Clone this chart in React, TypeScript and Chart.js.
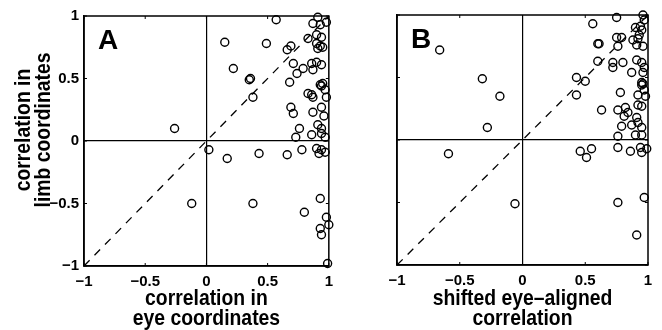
import React, { useEffect, useRef } from 'react';
import { Chart, registerables } from 'chart.js';

Chart.register(...registerables);

// ---------- data ----------
const TICK_VALUES = [-1, -0.5, 0, 0.5, 1];
const TICK_LABELS = ['\u22121', '\u22120.5', '0', '0.5', '1'];

const DIAG_X = [-1, 1];
const DIAG_Y = [-1, 1];

const A_X = [0.15, 0.57, 0.22, 0.49, 0.35, 0.36, 0.38, -0.26, 0.69, 0.66, 0.91, 0.98, 0.87, 0.93, 0.90, 0.94, 0.83, 0.90, 0.93, 0.95, 0.91, 0.71, 0.86, 0.90, 0.94, 0.87, 0.79, 0.74, 0.68, 0.93, 0.94, 0.95, 0.97, 0.98, 0.83, 0.86, 0.87, 0.94, 0.96, 0.91, 0.94, 0.87, 0.69, 0.71, 0.76, 0.86, 0.94, 0.97, 0.73, 0.02, 0.17, 0.43, 0.66, 0.78, 0.90, 0.94, 0.92, 0.97, -0.12, 0.38, 0.80, 0.93, 0.98, 1.0, 0.93, 0.94, 0.99];
const A_Y = [0.79, 0.97, 0.58, 0.78, 0.49, 0.50, 0.35, 0.10, 0.76, 0.73, 0.99, 0.95, 0.94, 0.93, 0.85, 0.83, 0.82, 0.78, 0.76, 0.75, 0.74, 0.62, 0.62, 0.63, 0.61, 0.57, 0.58, 0.54, 0.47, 0.45, 0.44, 0.46, 0.41, 0.35, 0.38, 0.37, 0.35, 0.27, 0.20, 0.13, 0.10, 0.23, 0.27, 0.22, 0.10, 0.05, 0.06, 0.03, 0.03, -0.07, -0.14, -0.10, -0.11, -0.07, -0.06, -0.07, -0.10, -0.09, -0.50, -0.50, -0.57, -0.46, -0.61, -0.67, -0.70, -0.75, -0.98];

const B_X = [-0.66, -0.32, -0.18, -0.28, -0.59, -0.06, 0.56, 0.60, 0.61, 0.60, 0.72, 0.72, 0.43, 0.50, 0.43, 0.63, 0.75, 0.75, 0.76, 0.96, 0.97, 0.94, 0.95, 0.90, 0.79, 0.88, 0.92, 0.91, 0.96, 0.93, 0.80, 0.87, 0.91, 0.95, 0.97, 0.96, 0.78, 0.95, 0.96, 0.95, 0.97, 0.92, 0.98, 0.76, 0.82, 0.84, 0.81, 0.92, 0.95, 0.91, 0.87, 0.92, 0.95, 0.79, 0.76, 0.90, 0.95, 0.46, 0.51, 0.55, 0.76, 0.86, 0.94, 0.99, 0.95, 0.76, 0.97, 0.91];
const B_Y = [0.72, 0.49, 0.35, 0.10, -0.11, -0.51, 0.93, 0.77, 0.77, 0.63, 0.62, 0.58, 0.50, 0.47, 0.36, 0.24, 0.98, 0.82, 0.75, 1.0, 0.96, 0.91, 0.88, 0.90, 0.82, 0.80, 0.81, 0.76, 0.75, 0.84, 0.62, 0.54, 0.64, 0.62, 0.58, 0.54, 0.38, 0.44, 0.45, 0.46, 0.40, 0.36, 0.35, 0.24, 0.26, 0.22, 0.19, 0.28, 0.27, 0.18, 0.12, 0.14, 0.10, 0.11, 0.03, 0.04, 0.04, -0.09, -0.14, -0.07, -0.06, -0.09, -0.06, -0.07, -0.10, -0.50, -0.46, -0.76];

const A_LETTER = 'A';
const B_LETTER = 'B';
const A_XTITLE = ['correlation in', 'eye coordinates'];
const B_XTITLE = ['shifted eye\u2013aligned', 'correlation'];
const Y_TITLE = ['correlation in', 'limb coordinates'];

const FONT = "'Liberation Sans', Arial, Helvetica, sans-serif";

// ---------- plugin: frame, inward ticks, panel letter, titles ----------
const framePlugin = {
  id: 'frame',
  afterDraw(chart: any, _args: any, opts: any) {
    const { ctx, chartArea: a, scales } = chart;
    ctx.save();
    ctx.strokeStyle = '#000';
    ctx.lineWidth = 1.5;
    ctx.strokeRect(a.left, a.top, a.right - a.left, a.bottom - a.top);
    ctx.lineWidth = 1;
    TICK_VALUES.forEach((v) => {
      const x = scales.x.getPixelForValue(v);
      const y = scales.y.getPixelForValue(v);
      ctx.beginPath();
      ctx.moveTo(x, a.bottom); ctx.lineTo(x, a.bottom - 3);
      ctx.moveTo(x, a.top); ctx.lineTo(x, a.top + 3);
      ctx.moveTo(a.left, y); ctx.lineTo(a.left + 3, y);
      ctx.moveTo(a.right, y); ctx.lineTo(a.right - 3, y);
      ctx.stroke();
    });
    ctx.fillStyle = '#000';
    // panel letter
    ctx.font = `bold 28px ${FONT}`;
    ctx.textAlign = 'left';
    ctx.textBaseline = 'alphabetic';
    ctx.fillText(opts.letter, a.left + 14, a.top + 33);
    // x title
    ctx.font = `bold 22px ${FONT}`;
    ctx.textAlign = 'center';
    const cx = (a.left + a.right) / 2;
    const xb = opts.xTitleBaselines;
    opts.xTitle.forEach((t: string, i: number) => {
      ctx.save();
      ctx.translate(cx, xb[i]);
      ctx.scale(0.88, 1);
      ctx.fillText(t, 0, 0);
      ctx.restore();
    });
    // y title
    if (opts.yTitle) {
      const yb = opts.yTitleBaselines;
      opts.yTitle.forEach((t: string, i: number) => {
        ctx.save();
        ctx.translate(yb[i], opts.yTitleCenter);
        ctx.rotate(-Math.PI / 2);
        ctx.scale(0.88, 1);
        ctx.fillText(t, 0, 0);
        ctx.restore();
      });
    }
    ctx.restore();
  },
};

function makeConfig(
  xs: number[], ys: number[], yAxisWidth: number, xAxisHeight: number,
  padding: any, showYLabels: boolean, frame: any,
) {
  const gridColor = (c: any) => (c.tick && c.tick.value === 0 ? '#000' : 'rgba(0,0,0,0)');
  const tickCb = (v: any) => {
    const i = TICK_VALUES.indexOf(Number(v));
    return i >= 0 ? TICK_LABELS[i] : '';
  };
  const setTicks = (s: any) => { s.ticks = TICK_VALUES.map((v) => ({ value: v })); };
  return {
    type: 'scatter' as const,
    data: {
      datasets: [
        {
          type: 'line' as const,
          data: DIAG_X.map((x, i) => ({ x, y: DIAG_Y[i] })),
          borderColor: '#000',
          borderWidth: 1.3,
          borderDash: [8, 7],
          pointRadius: 0,
          fill: false,
          clip: false,
        },
        {
          type: 'scatter' as const,
          data: xs.map((x, i) => ({ x, y: ys[i] })),
          pointStyle: 'circle',
          pointRadius: 4,
          borderColor: '#000',
          borderWidth: 1.4,
          backgroundColor: 'rgba(0,0,0,0)',
          clip: false,
        },
      ],
    },
    options: {
      animation: false,
      responsive: false,
      events: [],
      layout: { padding },
      plugins: { legend: { display: false }, tooltip: { enabled: false }, frame },
      scales: {
        x: {
          type: 'linear',
          min: -1,
          max: 1,
          afterBuildTicks: setTicks,
          afterFit: (s: any) => { s.height = xAxisHeight; },
          grid: { color: gridColor, lineWidth: 1.2, drawTicks: false },
          border: { display: true, color: '#000', width: 1.5 },
          ticks: { callback: tickCb, color: '#000', padding: 7, maxRotation: 0, autoSkip: false, font: { family: FONT, size: 15, weight: 'bold' } },
        },
        y: {
          type: 'linear',
          min: -1,
          max: 1,
          afterBuildTicks: setTicks,
          afterFit: (s: any) => { s.width = yAxisWidth; },
          grid: { color: gridColor, lineWidth: 1.2, drawTicks: false },
          border: { display: true, color: '#000', width: 1.5 },
          ticks: { display: showYLabels, callback: tickCb, color: '#000', padding: 5, autoSkip: false, font: { family: FONT, size: 15, weight: 'bold' } },
        },
      },
    },
    plugins: [framePlugin],
  };
}

export default function App() {
  const refA = useRef<HTMLCanvasElement>(null);
  const refB = useRef<HTMLCanvasElement>(null);

  useEffect(() => {
    const chartA = new Chart(refA.current as HTMLCanvasElement, makeConfig(
      A_X, A_Y, 84, 64, { top: 16, right: 6, left: 0, bottom: 0 }, true,
      { letter: A_LETTER, xTitle: A_XTITLE, xTitleBaselines: [305, 325], yTitle: Y_TITLE, yTitleBaselines: [30, 50], yTitleCenter: 130 },
    ) as any);
    const chartB = new Chart(refB.current as HTMLCanvasElement, makeConfig(
      B_X, B_Y, 57, 65, { top: 15, right: 14, left: 0, bottom: 0 }, false,
      { letter: B_LETTER, xTitle: B_XTITLE, xTitleBaselines: [305, 325], yTitle: null },
    ) as any);
    return () => { chartA.destroy(); chartB.destroy(); };
  }, []);

  return (
    <div style={{ position: 'absolute', left: 0, top: 0, width: 662, height: 330, background: '#fff', overflow: 'hidden' }}>
      <canvas ref={refA} width={340} height={330} style={{ position: 'absolute', left: 0, top: 0, width: 340, height: 330 }} />
      <canvas ref={refB} width={322} height={330} style={{ position: 'absolute', left: 340, top: 0, width: 322, height: 330 }} />
    </div>
  );
}
